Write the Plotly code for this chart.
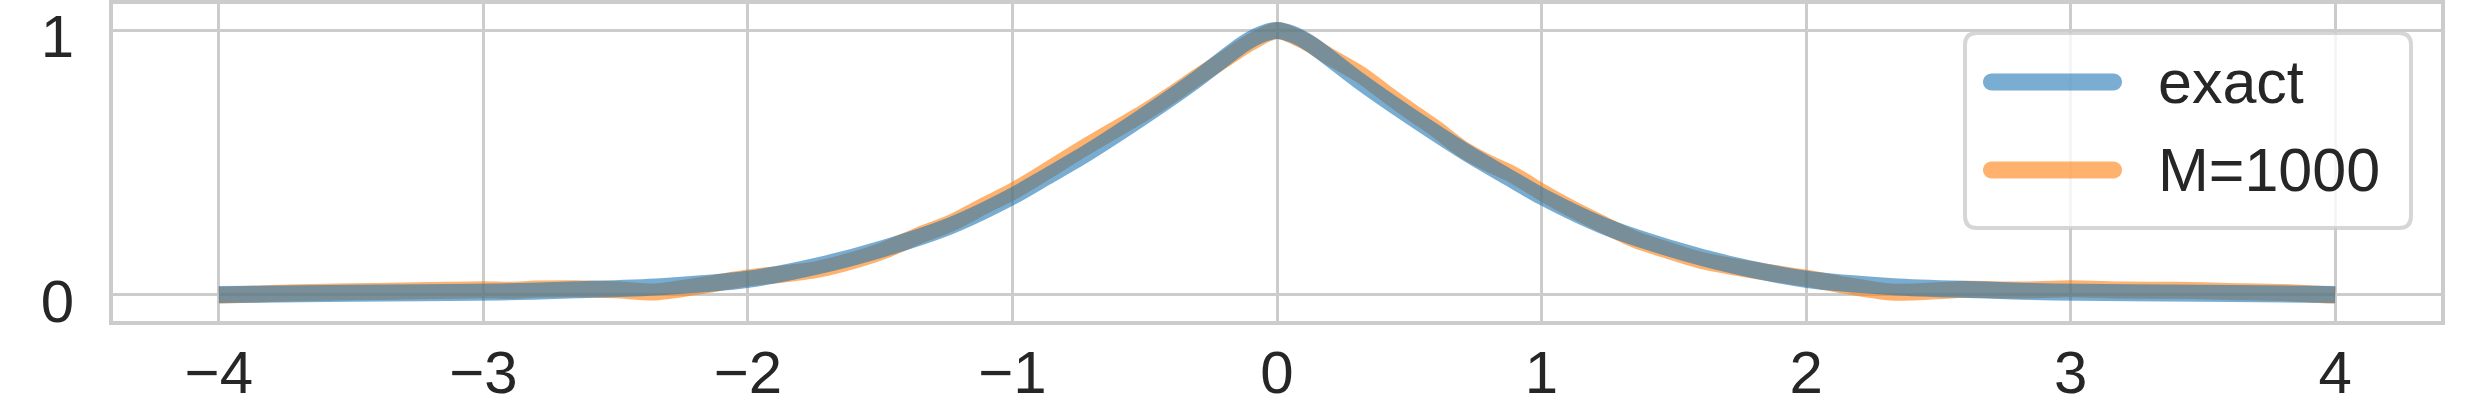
import plotly.graph_objects as go

# exact curve
x_exact = [-4.0, -3.5, -2.94, -2.65, -2.33, -2.0, -1.73, -1.48, -1.23, -1.0, -0.87, -0.72, -0.5, -0.31,
           -0.125, -0.06, 0.0, 0.06, 0.125, 0.31, 0.5, 0.72, 0.87, 1.0, 1.23, 1.48, 1.73, 2.0, 2.33,
           2.65, 2.94, 3.5, 4.0]
y_exact = [0.0, 0.005, 0.01, 0.018, 0.03, 0.058, 0.11, 0.177, 0.262, 0.372, 0.447, 0.535, 0.678, 0.81,
           0.95, 0.985, 1.0, 0.985, 0.95, 0.81, 0.678, 0.535, 0.447, 0.372, 0.262, 0.177, 0.11, 0.058, 0.03,
           0.018, 0.01, 0.005, 0.0]

# M=1000 estimate
x_mc = [-4.0, -3.8, -3.6, -3.4, -3.2, -3.0, -2.9, -2.8, -2.65, -2.5, -2.35, -2.2, -2.0, -1.85, -1.74,
        -1.6, -1.486, -1.35, -1.234, -1.1, -1.0, -0.88, -0.755, -0.62, -0.5, -0.4, -0.313, -0.2, -0.1,
        0.0, 0.1, 0.2, 0.32, 0.42, 0.51, 0.6, 0.7, 0.8, 0.89, 1.0, 1.1, 1.223, 1.35, 1.476, 1.6, 1.729,
        1.85, 2.0, 2.15, 2.32, 2.45, 2.61, 2.8, 3.0, 3.2, 3.4, 3.6, 3.8, 4.0]
y_mc = [-0.003, 0.004, 0.009, 0.012, 0.015, 0.018, 0.016, 0.021, 0.022, 0.018, 0.010, 0.03, 0.063, 0.08,
        0.095, 0.13, 0.167, 0.225, 0.27, 0.34, 0.39, 0.462, 0.54, 0.62, 0.69, 0.755, 0.815, 0.89, 0.955,
        1.0, 0.962, 0.9, 0.83, 0.755, 0.69, 0.628, 0.552, 0.497, 0.455, 0.388, 0.332, 0.27, 0.21, 0.168,
        0.13, 0.105, 0.085, 0.062, 0.035, 0.01, 0.012, 0.02, 0.017, 0.022, 0.017, 0.016, 0.012, 0.008,
        -0.003]

names = ["exact", "M=1000"]
colors = ["#1f77b4", "#ff7f0e"]
x_ticks = [-4, -3, -2, -1, 0, 1, 2, 3, 4]
y_ticks = [0, 1]

W, H = 2479, 410
L, R, T, B = 113, 38, 4, 89
FONT = "Liberation Sans, Arial, sans-serif"
GRID = "#cccccc"
TXT = "#262626"


def px_x(px):
    return (px - L) / (W - L - R)


def px_y(py):
    return (H - B - py) / (H - B - T)


def rounded_box(x0, y0, x1, y1, r):
    a, b, c, d = px_x(x0), px_x(x1), px_y(y0), px_y(y1)
    rx, ry = r / (W - L - R), r / (H - B - T)
    return (f"M{a+rx},{c} L{b-rx},{c} Q{b},{c} {b},{c-ry} L{b},{d+ry} Q{b},{d} {b-rx},{d} "
            f"L{a+rx},{d} Q{a},{d} {a},{d+ry} L{a},{c-ry} Q{a},{c} {a+rx},{c} Z")


def stadium(x0, x1, yc, h):
    # horizontal bar with round ends, like a matplotlib legend handle
    r = h / 2
    k = 0.5523 * r
    s = f"M{px_x(x0 + r)},{px_y(yc - r)} L{px_x(x1 - r)},{px_y(yc - r)} "
    s += (f"C{px_x(x1 - r + k)},{px_y(yc - r)} {px_x(x1)},{px_y(yc - k)} {px_x(x1)},{px_y(yc)} "
          f"C{px_x(x1)},{px_y(yc + k)} {px_x(x1 - r + k)},{px_y(yc + r)} {px_x(x1 - r)},{px_y(yc + r)} ")
    s += f"L{px_x(x0 + r)},{px_y(yc + r)} "
    s += (f"C{px_x(x0 + r - k)},{px_y(yc + r)} {px_x(x0)},{px_y(yc + k)} {px_x(x0)},{px_y(yc)} "
          f"C{px_x(x0)},{px_y(yc - k)} {px_x(x0 + r - k)},{px_y(yc - r)} {px_x(x0 + r)},{px_y(yc - r)} Z")
    return s


fig = go.Figure()

# orange first, blue on top (overlap reads grey-blue)
fig.add_trace(go.Scatter(x=x_mc, y=y_mc, mode="lines", name=names[1],
                         line=dict(color=colors[1], width=17, shape="spline", smoothing=0.8),
                         opacity=0.6, showlegend=False))
fig.add_trace(go.Scatter(x=x_exact, y=y_exact, mode="lines", name=names[0],
                         line=dict(color=colors[0], width=17, shape="spline", smoothing=0.8),
                         opacity=0.6, showlegend=False))

# legend box drawn by hand (rounded, matplotlib look)
shapes = [dict(type="path", xref="paper", yref="paper", path=rounded_box(1965, 33, 2411, 228, 12),
               fillcolor="rgba(255,255,255,0.8)", line=dict(color="rgba(204,204,204,0.8)", width=4),
               layer="above")]
annotations = []
for i, (nm, col) in enumerate(zip(names, colors)):
    yc = 82 + i * 88
    shapes.append(dict(type="path", xref="paper", yref="paper", path=stadium(1983, 2122, yc, 17),
                       fillcolor=col, opacity=0.6, line=dict(width=0), layer="above"))
    annotations.append(dict(text=nm, xref="paper", yref="paper", x=px_x(2156), y=px_y(yc),
                            xanchor="left", yanchor="middle", showarrow=False,
                            font=dict(family=FONT, size=61, color=TXT)))

fig.update_layout(
    width=W, height=H, autosize=False,
    margin=dict(l=L, r=R, t=T, b=B),
    paper_bgcolor="white", plot_bgcolor="white",
    font=dict(family=FONT, size=61, color=TXT),
    shapes=shapes, annotations=annotations,
)
fig.update_xaxes(range=[-4.4, 4.4], tickvals=x_ticks, showgrid=True, gridcolor=GRID, gridwidth=3,
                 zeroline=False, showline=True, mirror=True, linecolor=GRID, linewidth=4,
                 ticks="", ticklabelstandoff=-4, automargin=False,
                 ticklabeloverflow="allow",
                 tickfont=dict(family=FONT, size=60, color=TXT))
fig.update_yaxes(range=[-0.1, 1.1], tickvals=y_ticks, showgrid=True, gridcolor=GRID, gridwidth=3,
                 zeroline=False, showline=True, mirror=True, linecolor=GRID, linewidth=4,
                 ticks="outside", ticklen=23, tickcolor="rgba(0,0,0,0)", automargin=False,
                 ticklabeloverflow="allow", ticklabelshift=6,
                 tickfont=dict(family=FONT, size=60, color=TXT))

# page body has an 8px default margin; drop it so the figure sits at the window corner
fig.write_html("out.html", config={"displayModeBar": False},
               post_script="document.body.style.margin='0';")
